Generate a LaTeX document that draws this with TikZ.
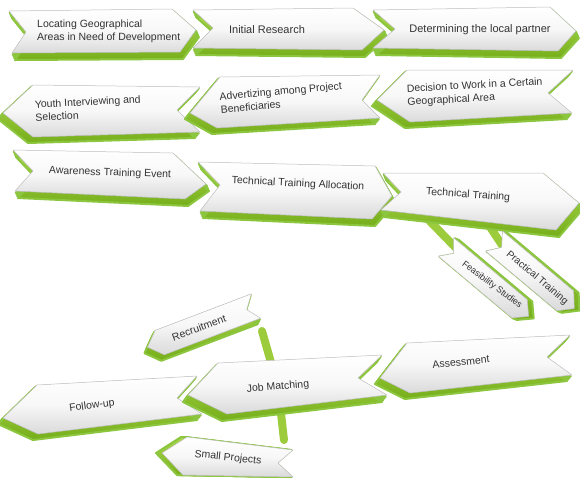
\documentclass[tikz,border=0pt]{standalone}
\usepackage{fontspec}
\setmainfont{Liberation Sans}
\usetikzlibrary{backgrounds}
\definecolor{chevgreen}{HTML}{8CC63F}
\definecolor{chevdark}{HTML}{76AE1A}
\definecolor{chevlight}{HTML}{A9D74B}
\definecolor{stemgreen}{HTML}{9CCB3B}
\definecolor{facegray}{HTML}{DADADA}
\definecolor{rimgray}{HTML}{BDBDBD}
\definecolor{labelgray}{HTML}{333333}

\begin{document}
\begin{tikzpicture}[
  x=1pt, y=-1pt,
  face/.style={top color=white, bottom color=facegray, middle color=white!97!black, draw=rimgray, line width=0.5pt, line join=round},
  body/.style={top color=chevlight, bottom color=chevdark, draw=chevgreen, line width=2pt, line join=round},
  lbl/.style={font=\fontsize{10.5}{13}\selectfont, text=labelgray, inner sep=0pt, align=left},
  stem/.style={draw=stemgreen, line width=8pt, line cap=round},
  pics/chev/.style n args={3}{code={
    \foreach \k in {0.25,0.5,0.75,1}
      \path[body, shift={({\k*(#2)},{\k*(#3)})}] #1;
    \path[face] #1;
  }},
]
  \useasboundingbox (0,0) rectangle (580,483);

  % Row 1: right-pointing
  \pic {chev={(9,11)--(172,9)--(196,30)--(180,52)--(12,53)--(26,32)--cycle}{3}{7}};
  \pic {chev={(193,10)--(353,8)--(384,30)--(362,50)--(193,48)--(213,28)--cycle}{3}{7}};
  \pic {chev={(373,10)--(550,7)--(576,31)--(558,51)--(373,48)--(395,29)--cycle}{3}{7}};
  \node[lbl, anchor=west] (locate) at (37,31) {Locating Geographical\\Areas in Need of Development};
  \node[lbl, font=\fontsize{11}{13}\selectfont] (research) at (267,30) {Initial Research};
  \node[lbl, font=\fontsize{11}{13}\selectfont] (partner) at (480,30) {Determining the local partner};

  % Row 2: left-pointing
  \pic {chev={(3,113)--(33,85)--(200,87)--(177,110)--(200,132)--(33,137)--cycle}{-5}{6}};
  \pic {chev={(190,113)--(220,77)--(380,75)--(362,100)--(380,118)--(217,128)--cycle}{-5}{6}};
  \pic {chev={(377,100)--(407,70)--(573,70)--(548,93)--(572,113)--(410,122)--cycle}{-5}{6}};
  \node[lbl, anchor=west, rotate=3] (youth) at (35,111) {Youth Interviewing and\\Selection};
  \node[lbl, anchor=west, rotate=5] (advert) at (220,103) {Advertizing among Project\\Beneficiaries};
  \node[lbl, anchor=west, rotate=3] (decide) at (407,96) {Decision to Work in a Certain\\Geographical Area};

  % Row 3: right-pointing, with two branches
  \pic {chev={(13,150)--(173,153)--(206,184)--(185,199)--(15,191)--(33,171)--cycle}{3}{7}};
  \pic {chev={(198,162)--(375,166)--(392,196)--(372,219)--(200,211)--(220,185)--cycle}{3}{7}};
  \pic {chev={(383,173)--(543,173)--(579,203)--(556,230)--(381,210)--(401,192)--cycle}{3}{7}};
  \pic {chev={(453.7,237.8)--(527.2,299.5)--(528.7,316.4)--(511.8,317.9)--(438.3,256.2)--(453.7,253.4)--cycle}{5}{2}};
  \pic {chev={(502.4,231)--(573.6,290.8)--(574.4,308.5)--(556.8,310.8)--(485.6,251)--(501.7,247.4)--cycle}{5}{2}};
  \node[lbl, rotate=-2] (aware) at (110,173) {Awareness Training Event};
  \node[lbl, rotate=-3] (alloc) at (298,184) {Technical Training Allocation};
  \node[lbl, rotate=-4] (train) at (468,195) {Technical Training};
  \node[lbl, rotate=-37, font=\fontsize{9}{11}\selectfont] (feas) at (492,285) {Feasibility Studies};
  \node[lbl, rotate=-40, font=\fontsize{10}{12}\selectfont] (prac) at (537,278) {Practical Training};

  % Row 4: left-pointing, around one trunk
  \pic {chev={(147.5,347.2)--(155.1,330.4)--(251.4,293.8)--(246.7,309.6)--(260.6,318.2)--(164.3,354.8)--cycle}{-3}{6}};
  \pic {chev={(3,418)--(37,385)--(197,376)--(177,398)--(202,414)--(38,434)--cycle}{-5}{6}};
  \pic {chev={(188,395)--(218,363)--(382,355)--(358,378)--(387,395)--(227,414)--cycle}{-5}{7}};
  \pic {chev={(162,453)--(187,437)--(293,450)--(278,463)--(293,477)--(183,475)--cycle}{-6}{0}};
  \pic {chev={(380,378)--(407,343)--(570,335)--(547,357)--(572,375)--(410,393)--cycle}{-5}{6}};
  \node[lbl, rotate=20] (recruit) at (199,328) {Recruitment};
  \node[lbl, rotate=8] (follow) at (92,406) {Follow-up};
  \node[lbl, rotate=5] (job) at (278,387) {Job Matching};
  \node[lbl, rotate=-6] (small) at (228,458) {Small Projects};
  \node[lbl, rotate=6] (assess) at (461,362) {Assessment};

  % Stems behind the arrows
  \coordinate (feasroot) at (417,208);
  \coordinate (pracroot) at (484,218);
  \coordinate (stemtop) at (262,331);
  \coordinate (stembot) at (284,440);
  \begin{scope}[on background layer]
    \draw[stem] (feasroot) -- (feas);
    \draw[stem] (pracroot) -- (prac.west);
    \draw[stem] (stemtop) -- (job) -- (stembot);
  \end{scope}
\end{tikzpicture}
\end{document}
